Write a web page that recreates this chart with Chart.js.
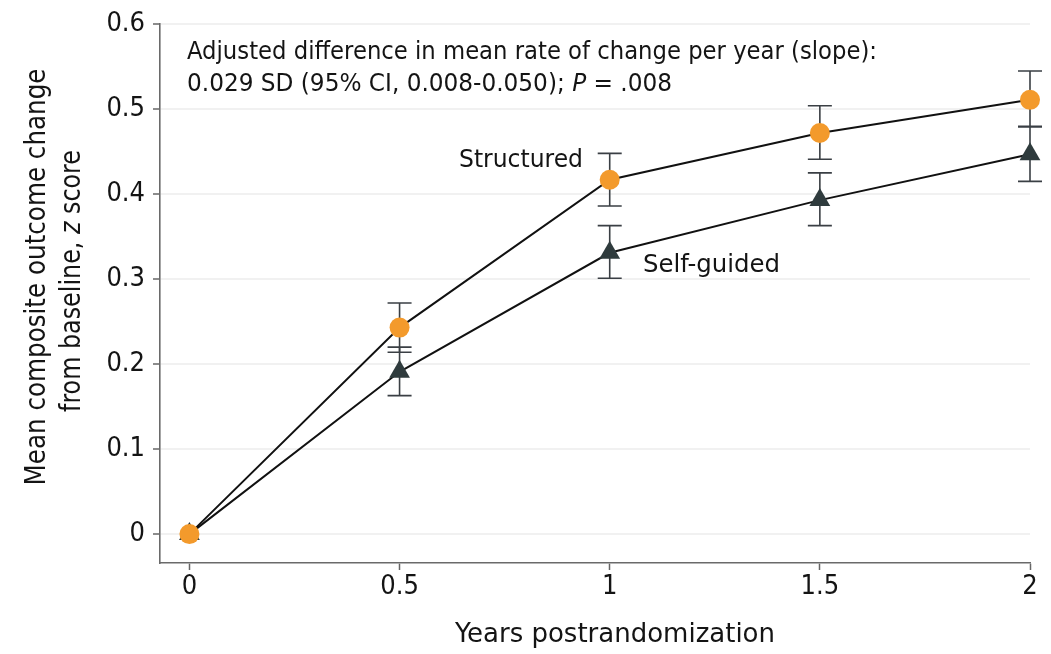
<!DOCTYPE html>
<html>
<head>
<meta charset="utf-8">
<script src="https://cdn.jsdelivr.net/npm/chart.js@4/dist/chart.umd.min.js"></script>
<style>
  html, body { margin: 0; padding: 0; background: #ffffff; }
  #wrap { width: 1051px; height: 654px; position: relative; }
</style>
</head>
<body>
<div id="wrap"><canvas id="c" width="1051" height="654"></canvas></div>
<script>
// Years after randomization (x positions of the visits)
const years = [0, 0.5, 1, 1.5, 2];

// Structured intervention: mean change and 95% CI bounds
const structuredMean = [0, 0.243, 0.417, 0.472, 0.511];
const structuredLow  = [0, 0.214, 0.386, 0.441, 0.479];
const structuredHigh = [0, 0.272, 0.448, 0.504, 0.545];

// Self-guided intervention: mean change and 95% CI bounds
const selfGuidedMean = [0, 0.191, 0.331, 0.393, 0.447];
const selfGuidedLow  = [0, 0.163, 0.301, 0.363, 0.415];
const selfGuidedHigh = [0, 0.220, 0.363, 0.425, 0.480];

// Axis tick values
const xTicks = [0, 0.5, 1, 1.5, 2];
const yTicks = [0, 0.1, 0.2, 0.3, 0.4, 0.5, 0.6];

const FONT = '"DejaVu Sans Condensed", "Liberation Sans Narrow", "DejaVu Sans", sans-serif';
const TEXT = '#141414';

// Draw a run of text segments (some italic), optionally squeezed to a target width
function drawRich(ctx, parts, x, y, size, align, targetWidth) {
  ctx.save();
  ctx.textBaseline = 'middle';
  ctx.fillStyle = TEXT;
  let total = 0;
  const widths = parts.map(p => {
    ctx.font = (p.i ? 'italic ' : '') + size + 'px ' + FONT;
    const w = ctx.measureText(p.t).width;
    total += w;
    return w;
  });
  const sx = targetWidth ? targetWidth / total : 1;
  ctx.translate(x, y);
  const start = align === 'center' ? -total * sx / 2 : (align === 'right' ? -total * sx : 0);
  ctx.translate(start, 0);
  ctx.scale(sx, 1);
  ctx.textAlign = 'left';
  let cx = 0;
  parts.forEach((p, k) => {
    ctx.font = (p.i ? 'italic ' : '') + size + 'px ' + FONT;
    ctx.fillText(p.t, cx, 0);
    cx += widths[k];
  });
  ctx.restore();
}

// Confidence-interval whiskers drawn behind the markers
const errorBars = {
  id: 'errorBars',
  beforeDatasetsDraw(chart) {
    const ctx = chart.ctx;
    const xs = chart.scales.x, ys = chart.scales.y;
    const sets = [
      { low: selfGuidedLow, high: selfGuidedHigh },
      { low: structuredLow, high: structuredHigh }
    ];
    ctx.save();
    ctx.strokeStyle = '#3a3f44';
    ctx.lineWidth = 1.6;
    sets.forEach(s => {
      years.forEach((yr, j) => {
        if (s.high[j] === s.low[j]) return;
        const px = xs.getPixelForValue(yr);
        const y1 = ys.getPixelForValue(s.low[j]);
        const y2 = ys.getPixelForValue(s.high[j]);
        ctx.beginPath();
        ctx.moveTo(px, y1); ctx.lineTo(px, y2);
        ctx.moveTo(px - 12, y1); ctx.lineTo(px + 12, y1);
        ctx.moveTo(px - 12, y2); ctx.lineTo(px + 12, y2);
        ctx.stroke();
      });
    });
    ctx.restore();
  }
};

// Axis titles, series labels and the slope annotation
const labels = {
  id: 'labels',
  afterDraw(chart) {
    const ctx = chart.ctx;
    // annotation
    drawRich(ctx, [{ t: 'Adjusted difference in mean rate of change per year (slope):' }], 187, 53, 24, 'left', 690);
    drawRich(ctx, [{ t: '0.029 SD (95% CI, 0.008-0.050); ' }, { t: 'P', i: true }, { t: ' = .008' }], 187, 85, 24, 'left', 485);
    // series labels
    drawRich(ctx, [{ t: 'Structured' }], 459, 160, 25, 'left', 124);
    drawRich(ctx, [{ t: 'Self-guided' }], 643, 265, 25, 'left', 137);
    // x title
    drawRich(ctx, [{ t: 'Years postrandomization' }], 615, 635, 27, 'center', 320);
    // y title (rotated)
    ctx.save();
    ctx.rotate(-Math.PI / 2);
    drawRich(ctx, [{ t: 'Mean composite outcome change' }], -277, 38, 28, 'center', 417);
    drawRich(ctx, [{ t: 'from baseline, ' }, { t: 'z', i: true }, { t: ' score' }], -281, 73, 28, 'center', 262);
    ctx.restore();
  }
};

const fmt = v => (Math.round(v * 10) / 10).toString();

new Chart(document.getElementById('c'), {
  type: 'line',
  data: {
    datasets: [
      {
        label: 'Structured',
        data: years.map((x, i) => ({ x, y: structuredMean[i] })),
        borderColor: '#111111',
        borderWidth: 2,
        pointStyle: 'circle',
        pointRadius: 10,
        pointBackgroundColor: '#f39a2c',
        pointBorderColor: '#f39a2c',
        pointBorderWidth: 0,
        clip: false,
        tension: 0
      },
      {
        label: 'Self-guided',
        data: years.map((x, i) => ({ x, y: selfGuidedMean[i] })),
        borderColor: '#111111',
        borderWidth: 2,
        pointStyle: 'triangle',
        pointRadius: 12,
        pointBackgroundColor: '#2f3b3d',
        pointBorderColor: '#2f3b3d',
        pointBorderWidth: 0,
        clip: false,
        tension: 0
      }
    ]
  },
  options: {
    responsive: false,
    animation: false,
    layout: { padding: { top: 18, right: 21, left: 0, bottom: 0 } },
    plugins: { legend: { display: false }, tooltip: { enabled: false } },
    scales: {
      x: {
        type: 'linear',
        min: -0.07,
        max: 2,
        afterBuildTicks: s => { s.ticks = xTicks.map(v => ({ value: v })); },
        afterFit: s => { s.height = 91; },
        ticks: {
          color: TEXT,
          font: { family: FONT, size: 27 },
          padding: 1,
          maxRotation: 0,
          autoSkip: false,
          callback: v => fmt(v)
        },
        grid: { drawOnChartArea: false, drawTicks: true, tickLength: 7, tickColor: '#666666', tickWidth: 1.5 },
        border: { color: '#6a6a6a', width: 1.6 }
      },
      y: {
        type: 'linear',
        min: -0.034,
        max: 0.6,
        afterBuildTicks: s => { s.ticks = yTicks.map(v => ({ value: v })); },
        afterFit: s => { s.width = 160; },
        ticks: {
          color: TEXT,
          font: { family: FONT, size: 27 },
          padding: 8,
          autoSkip: false,
          callback: v => fmt(v)
        },
        grid: { color: 'rgba(0,0,0,0.055)', lineWidth: 2, drawTicks: true, tickLength: 7, tickColor: '#666666', tickWidth: 1.5 },
        border: { color: '#6a6a6a', width: 1.6 }
      }
    }
  },
  plugins: [errorBars, labels]
});
</script>
</body>
</html>
